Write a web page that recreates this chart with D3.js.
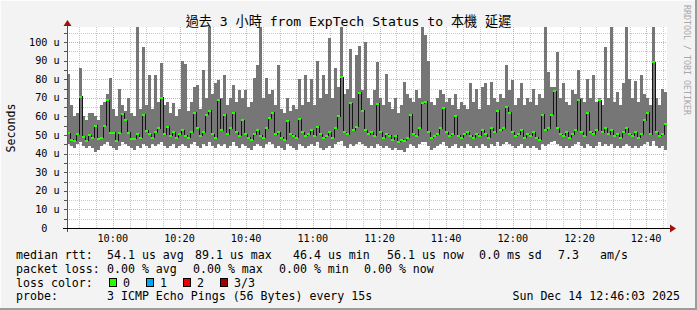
<!DOCTYPE html>
<html><head><meta charset="utf-8">
<script src="https://cdn.jsdelivr.net/npm/d3@7"></script>
<style>
html,body{margin:0;padding:0;background:#f3f3f3;}
svg{display:block;}
text{font-family:"DejaVu Sans Mono","Noto Sans CJK TC",monospace;fill:#000;}
</style></head><body>
<svg id="chart" width="697" height="310"></svg>
<script>
const titleText = "過去 3 小時 from ExpTech Status to 本機 延遲";
const startTime = new Date(2025, 11, 14, 9, 46, 15);
const endTime = new Date(2025, 11, 14, 12, 46, 15);
const stepSeconds = 54;

const rttMin = [
45,44,43,45,46,44,43,44,43,41, 42,44,45,46,44,43,42,44,46,45,
44,43,42,44,43,45,44,43,45,44, 45,46,44,43,44,45,43,44,45,44,
43,45,46,44,43,45,44,46,44,43, 45,44,45,43,44,46,44,43,45,44,
43,42,44,45,44,43,45,46,45,43, 44,43,42,45,44,43,42,45,44,43,
44,45,44,46,43,42,43,44,43,45, 46,47,44,43,45,44,45,46,45,44,
43,44,43,45,44,43,44,43,42,43, 42,42,41,43,45,44,43,45,46,46,
44,42,43,44,45,46,44,43,44,45, 43,44,43,45,44,43,44,43,45,44,
43,45,44,46,44,45,46,45,44,43, 44,45,43,44,43,44,43,42,45,44,
45,46,47,45,44,43,44,43,44,45, 46,44,43,45,44,43,44,46,44,45,
44,45,43,44,43,44,45,44,43,44, 43,44,45,46,44,47,44,43,44,42
];
const rttMax = [
83,66,60,62,86,60,58,62,62,60, 58,66,68,72,80.6,64,60,75,66,63,
70,62,60,108,64,97.5,66,82,64,82, 68,88.7,66,68,62,67,60,64,90,88,
63,68,76,77,64,85,70,108,72,78, 79.6,70,82,66,70,77,68,74,70,74,
65,68,80.6,87.6,108,70,80.6,72,74,66, 87.6,64,62,70,63,66,64,80,66,82,
68,80,66,90,70,82,72,102,70,86, 76,108,72,75,96,70,93,98,74,100,
70,66,74,89,70,66,83,68,64,70, 62,66,78.5,72,70,68,74,70,108,103.8,
90,68,66,70,74,72,68,70,66,72, 64,68,66,64,78,68,75,64,76,78,
66,78.5,70,68,72,70,87.6,74,79.6,66, 70,78,66,70,68,75,66,72,70,108,
84,76,76,94.8,70,78,68,66,74,72, 85,70,68,80,70,82,68,70,66,97.5,
70,108,68,73,66,78,108,80,70,79, 68,82,72,70,66,108,70,66,75,73
];
const rttMedian = [
51,47.5,47,50.3,70.6,49,46.8,50,48.5,55, 48,48.5,55,68.8,51.2,51.2,47,51.2,61.3,58,
51.2,48,48,50.3,48.5,61,52.3,50.5,48.5,51.5, 53.5,70,50.5,54.5,49.5,51.5,48.5,50.5,52.5,49.5,
48.5,51.5,62,53.5,49.5,51.5,61,63,50.5,48.5, 69,52.5,61,50.5,53.5,62,51.5,49.5,58,50.5,
48.5,47.5,50.5,52.5,49.5,48.5,53.5,59,62,50.5, 51.5,48.5,47.5,57.5,50.5,49.5,48.5,58.6,51.5,49.5,
50.5,52.5,49.5,54.5,50.5,48.5,49.5,51.5,48.5,53.5, 60,81,51.5,50.5,67,52.5,54.5,72.6,63,52.5,
50.5,51.5,49.5,66.7,51.5,48.5,50.5,49.5,47.5,49.5, 46.4,47.5,47,48.5,61,50.5,49.5,53.5,67,68,
51.5,48.5,49.5,50.5,53.5,64.5,51.5,49.5,50.5,60, 49.5,48.5,50.5,51.5,49.5,48.5,50.5,49.5,52.5,50.5,
48.5,53.5,51.5,63,52.5,53.5,65,62,51.5,49.5, 50.5,52.5,48.5,50.5,49.5,51.5,48.5,47.5,61,52.5,
53.5,61,73.6,53.5,50.5,49.5,51.5,48.5,50.5,52.5, 69,51.5,49.5,62,51.5,50.5,52.5,68.8,51.5,53.5,
50.5,52.5,49.5,50.5,48.5,51.5,53.5,50.5,49.5,51.5, 48.5,50.5,58,62,50.5,89.1,51.5,49.5,50.5,56.1
];

const yTickValues = [0,10,20,30,40,50,60,70,80,90,100];
const yMinorValues = [5,15,25,35,45,55,65,75,85,95,105];
const xTickFormat = "%H:%M";

const legendRtt = [["median rtt:",16],["54.1 us avg",107],["89.1 us max",195],["46.4 us min",293],["56.1 us now",387],["0.0 ms sd",479],["7.3",558],["am/s",600]];
const legendLoss = [["packet loss:",16],["0.00 % avg",107],["0.00 % max",193],["0.00 % min",279],["0.00 % now",364]];
const lossColors = [["0","#26ff00"],["1","#00a8f0"],["2","#ee0000"],["3/3","#a00000"]];
const probeText = "3 ICMP Echo Pings (56 Bytes) every 15s";
const dateText = "Sun Dec 14 12:46:03 2025";

const svg = d3.select("#chart");
const W = 697, H = 310;
const plot = {l:67, r:667, t:27, b:228};

svg.append("rect").attr("width",W).attr("height",H).attr("fill","#f3f3f3");
svg.append("line").attr("x1",0).attr("x2",W).attr("y1",0.5).attr("y2",0.5).attr("stroke","#fcfcfc").attr("stroke-width",1);
svg.append("line").attr("x1",0.5).attr("x2",0.5).attr("y1",0).attr("y2",H).attr("stroke","#fcfcfc");
svg.append("line").attr("x1",0).attr("x2",W).attr("y1",H-1).attr("y2",H-1).attr("stroke","#9c9c9c").attr("stroke-width",2);
svg.append("line").attr("x1",W-1).attr("x2",W-1).attr("y1",0).attr("y2",H).attr("stroke","#9c9c9c").attr("stroke-width",2);

const x = d3.scaleTime().domain([startTime,endTime]).range([plot.l,plot.r]);
const y = d3.scaleLinear().domain([0,100]).range([plot.b,42]);
const yTop = y.invert(plot.t);

svg.append("rect").attr("x",plot.l).attr("y",plot.t).attr("width",plot.r-plot.l).attr("height",plot.b-plot.t).attr("fill","#ffffff");

// grid
const g = svg.append("g").attr("shape-rendering","crispEdges");
const minorTimes = x.ticks(d3.timeMinute.every(5));
const majorTimes = x.ticks(d3.timeMinute.every(20));
const isMajorT = t => t.getMinutes() % 20 === 0;
g.selectAll(".vmin").data(minorTimes.filter(t=>!isMajorT(t))).join("line")
  .attr("x1",d=>Math.round(x(d))+0.5).attr("x2",d=>Math.round(x(d))+0.5).attr("y1",plot.t).attr("y2",plot.b)
  .attr("stroke","#c8c8c8").attr("stroke-dasharray","1,1");
g.selectAll(".hmin").data(yMinorValues).join("line")
  .attr("x1",plot.l).attr("x2",plot.r).attr("y1",d=>Math.round(y(d))+0.5).attr("y2",d=>Math.round(y(d))+0.5)
  .attr("stroke","#c8c8c8").attr("stroke-dasharray","1,1");
g.selectAll(".vmaj").data(majorTimes).join("line")
  .attr("x1",d=>Math.round(x(d))+0.5).attr("x2",d=>Math.round(x(d))+0.5).attr("y1",plot.t).attr("y2",plot.b)
  .attr("stroke","#f0a0a0").attr("stroke-dasharray","1,1");
g.selectAll(".hmaj").data(yTickValues.filter(v=>v>0)).join("line")
  .attr("x1",plot.l).attr("x2",plot.r).attr("y1",d=>Math.round(y(d))+0.5).attr("y2",d=>Math.round(y(d))+0.5)
  .attr("stroke","#f0a0a0").attr("stroke-dasharray","1,1");

// data
const times = rttMedian.map((d,i)=>new Date(startTime.getTime()+i*stepSeconds*1000));
const tEnd = i => new Date(startTime.getTime()+(i+1)*stepSeconds*1000);
const dataG = svg.append("g").attr("shape-rendering","crispEdges");
dataG.selectAll(".smoke").data(rttMedian).join("rect")
  .attr("x",(d,i)=>x(times[i])).attr("width",(d,i)=>x(tEnd(i))-x(times[i]))
  .attr("y",(d,i)=>y(Math.min(rttMax[i],yTop))).attr("height",(d,i)=>y(rttMin[i])-y(Math.min(rttMax[i],yTop)))
  .attr("fill","#767676");
const stepPts = rttMedian.map((d,i)=>[times[i],d]).concat([[tEnd(rttMedian.length-1),rttMedian[rttMedian.length-1]]]);
dataG.append("path").datum(stepPts)
  .attr("d",d3.line().x(d=>x(d[0])).y(d=>y(d[1])).curve(d3.curveStepAfter))
  .attr("fill","none").attr("stroke","#141414").attr("stroke-width",1);
dataG.selectAll(".med").data(rttMedian).join("rect")
  .attr("x",(d,i)=>x(times[i])).attr("width",(d,i)=>x(tEnd(i))-x(times[i]))
  .attr("y",d=>y(d)-1).attr("height",2).attr("fill",lossColors[0][1]);

// axes
const ax = svg.append("g").attr("shape-rendering","crispEdges");
ax.selectAll(".yt").data(yTickValues.concat(yMinorValues).filter(v=>v>0&&v<=105)).join("line")
  .attr("x1",64).attr("x2",67).attr("y1",d=>Math.round(y(d))+0.5).attr("y2",d=>Math.round(y(d))+0.5).attr("stroke","#555");
ax.append("line").attr("x1",plot.l+0.5).attr("x2",plot.l+0.5).attr("y1",plot.b+4).attr("y2",23).attr("stroke","#555");
ax.append("line").attr("x1",63).attr("x2",671).attr("y1",plot.b+0.5).attr("y2",plot.b+0.5).attr("stroke","#000");
svg.append("path").attr("d",`M${plot.l-3.5},${26} L${plot.l+0.5},${20} L${plot.l+4.5},${26} Z`).attr("fill","#a01010");
svg.append("path").attr("d",`M670,${plot.b-3.5} L676,${plot.b+0.5} L670,${plot.b+4.5} Z`).attr("fill","#a01010");

// y labels
const yl = svg.append("g").style("font-size","10.2px");
yl.selectAll(".yn").data(yTickValues).join("text")
  .attr("x",47.5).attr("y",d=>y(d)+3.6).attr("text-anchor","end").text(d=>d);
yl.selectAll(".yu").data(yTickValues.filter(v=>v>0)).join("text")
  .attr("x",53.5).attr("y",d=>y(d)+3.6).text("u");
// x labels
const fmt = d3.timeFormat(xTickFormat);
svg.append("g").style("font-size","10.2px").selectAll("text").data(majorTimes).join("text")
  .attr("x",d=>x(d)).attr("y",241.5).attr("text-anchor","middle").text(d=>fmt(d));
// title
svg.append("text").attr("x",348.5).attr("y",26).attr("text-anchor","middle").style("font-size","13.1px").text(titleText);
// y title
svg.append("text").attr("transform","translate(15,128) rotate(-90)").attr("text-anchor","middle").style("font-size","11.6px").text("Seconds");
// watermark
svg.append("text").attr("transform","translate(684,5) rotate(90)").style("font-size","8.3px").style("fill","#a8a8a8").text("RRDTOOL / TOBI OETIKER");

// legend
const lg = svg.append("g").style("font-size","11.6px");
lg.selectAll(".l1").data(legendRtt).join("text").attr("x",d=>d[1]).attr("y",259).text(d=>d[0]);
lg.selectAll(".l2").data(legendLoss).join("text").attr("x",d=>d[1]).attr("y",272.5).text(d=>d[0]);
lg.append("text").attr("x",16).attr("y",286.5).text("loss color:");
const boxX = [109,146,183,220];
lossColors.forEach((c,i)=>{
  lg.append("rect").attr("x",boxX[i]+0.5).attr("y",278.5).attr("width",7).attr("height",8).attr("fill",c[1]).attr("stroke","#000").attr("stroke-width",1);
  lg.append("text").attr("x",boxX[i]+14).attr("y",286.5).text(c[0]);
});
lg.append("text").attr("x",16).attr("y",300).text("probe:");
lg.append("text").attr("x",107).attr("y",300).text(probeText);
lg.append("text").attr("x",680).attr("y",300).attr("text-anchor","end").text(dateText);
</script>
</body></html>
